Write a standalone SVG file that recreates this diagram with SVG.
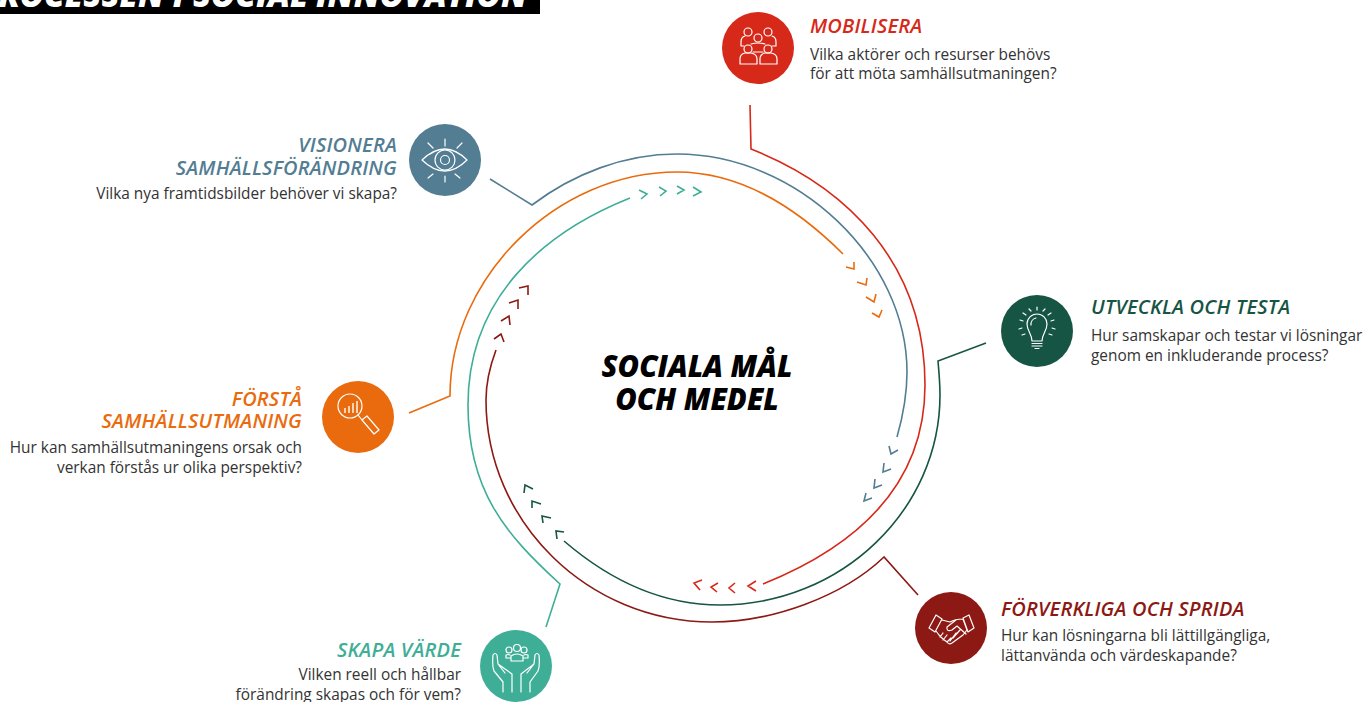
<svg xmlns="http://www.w3.org/2000/svg" width="1365" height="702" viewBox="0 0 1365 702">
<style>
text{font-family:"Open Sans","Noto Sans","Liberation Sans",sans-serif}
.h{font-size:20px;font-style:italic;font-weight:600;letter-spacing:.2px}
.b{font-size:15.4px;fill:#333}
.e{text-anchor:end}
.c{font-size:29.300px;font-style:italic;font-weight:800;text-anchor:middle;fill:#000}
.l{fill:none;stroke-width:1.6;stroke-linejoin:miter}
.ic{fill:none;stroke:#fff;stroke-width:1.2;stroke-linecap:round;stroke-linejoin:round}
.red{stroke:#d7291a}.blu{stroke:#527d92}.grn{stroke:#165443}.drd{stroke:#8c1913}.tel{stroke:#3fae97}.org{stroke:#e96b0e}
</style>
<g id="title"><rect x="0" y="0" width="540" height="14" fill="#000"/><text x="527" y="7" text-anchor="end" style="font-size:33px;font-weight:800;font-style:italic;fill:#fff">PROCESSEN I SOCIAL INNOVATION</text></g>
<g id="connectors">
<path class="l blu" d="M490 179L532 205C573 174 624 154 677 154C797 154 907 259 907 372C907 394 903 416 897 437"/>
<path class="l red" d="M750 105L751 149C845 186 925 262 925 385C925 490 850 549 763 584"/>
<path class="l grn" d="M986 343L938 361C939 372 940 384 940 395C940 510 841 605 720 605C665 605 614 584 564 541"/>
<path class="l drd" d="M918 595L884 557C842 597 772 622 712 622C588 622 486 522 486 400C486 383 490 366 496 350"/>
<path class="l tel" d="M546 627L560 584C505 534 468 490 468 405C468 300 540 234 630 198"/>
<path class="l org" d="M409 413L450 396C450 277 557 172 677 172C750 172 808 219 843 254"/>
<g class="l tel"><path d="M639 190L647 194L641 199M659 187L666 191L660 196M677 186L684 190L677 194M693 187L701 192L693 196"/></g>
<g class="l org"><path d="M846 267L854 269L854 262M857 282L866 285L867 278M866 297L874 302L876 294M872 313L879 317L882 310"/></g>
<g class="l blu"><path d="M889 446L891 454L898 450M884 463L883 472L891 469M875 479L874 488L882 485M866 493L864 501L872 498"/></g>
<g class="l red"><path d="M756 581L748 586L756 591M735 583L729 588L735 593M718 583L711 587L717 592M702 580L694 583L700 590"/></g>
<g class="l grn"><path d="M564 532L556 531L557 539M551 518L542 516L543 523M541 504L532 501L532 508M533 489L525 485L524 493"/></g>
<g class="l drd"><path d="M519 288L528 286L528 295M509 303L518 300L518 309M501 321L509 316L510 325M494 339L501 334L504 342"/></g>
</g>
<g id="center"><text class="c" x="697" y="377">SOCIALA MÅL</text><text class="c" x="697" y="410">OCH MEDEL</text></g>
<g id="mobilisera"><circle cx="758" cy="48" r="36" fill="#d7291a"/>
<g class="ic"><circle cx="748" cy="32" r="4"/><circle cx="768" cy="32" r="4"/><circle cx="758" cy="38" r="4"/><circle cx="748" cy="49" r="4"/><circle cx="768" cy="49" r="4"/><path d="M740 64V59Q740 54 745 53H751Q757 54 757 59V64ZM760 64V59Q760 54 765 53H771Q777 54 777 59V64ZM744 46H741V42Q741 37 745 36M772 46H776V42Q776 37 772 36M751 44Q758 42 765 44M753 52H763"/></g>
<text class="h" x="810" y="33" fill="#d7291a">MOBILISERA</text><text class="b" x="810" y="60">Vilka aktörer och resurser behövs</text><text class="b" x="810" y="79">för att möta samhällsutmaningen?</text></g>
<g id="utveckla"><circle cx="1037" cy="331" r="36" fill="#165443"/>
<g class="ic"><path d="M1032 341C1032 334 1027 331 1027 324A10 10 0 0 1 1047 324C1047 331 1042 334 1042 341ZM1031 325A6.500 6.500 0 0 1 1036 318M1032 343.500H1042M1032 346H1042M1035 348.500H1039M1037 310V307M1043 311L1045 309M1031 311L1029 309M1048 315L1051 313M1026 315L1023 313M1051 321L1054 320M1023 321L1020 320M1052 328L1055 329M1022 328L1019 329M1049 334L1052 335M1025 334L1022 335"/></g>
<text class="h" x="1091" y="314" fill="#165443">UTVECKLA OCH TESTA</text><text class="b" x="1091" y="341">Hur samskapar och testar vi lösningar</text><text class="b" x="1091" y="361">genom en inkluderande process?</text></g>
<g id="forverkliga"><circle cx="951" cy="628" r="36" fill="#8c1913"/>
<g class="ic"><path d="M929 628L936 615L942 619L935 632ZM963 618L969 615L974 628L968 632ZM942 620L950 622Q955 619 963 619L967 630L963 635L952 643Q949 645 947 642L943 639L939 635L936 631M956 620L947 627Q946 632 952 630L957 626L966 634M960 630L953 638M956 633L950 641M943 633L940 637M947 635L943 640M951 638L947 642"/></g>
<text class="h" x="1001" y="616" fill="#8c1913">FÖRVERKLIGA OCH SPRIDA</text><text class="b" x="1001" y="641">Hur kan lösningarna bli lättillgängliga,</text><text class="b" x="1001" y="661">lättanvända och värdeskapande?</text></g>
<g id="skapa"><circle cx="516" cy="666" r="36" fill="#3fae97"/>
<g class="ic"><circle cx="509" cy="650" r="3"/><circle cx="517" cy="648" r="3.500"/><circle cx="524" cy="650" r="3"/><path d="M511 661V656Q517 652 523 656V661ZM511 658H506V655Q508 654 510 655M523 658H528V655Q526 654 524 655"/><path d="M503 692V682L494 671Q492 666 493 655Q495 652 497 655L498 664L512 674V692M498 664L505 673M530 692V682L538 671Q540 666 539 655Q537 652 535 655L534 664L521 674V692M534 664L527 673"/></g>
<text class="h e" x="461" y="657" fill="#3fae97">SKAPA VÄRDE</text><text class="b e" x="461" y="680">Vilken reell och hållbar</text><text class="b e" x="461" y="700">förändring skapas och för vem?</text></g>
<g id="forsta"><circle cx="358" cy="417" r="36" fill="#e96b0e"/>
<g class="ic"><circle cx="350" cy="406" r="12"/><path d="M358 415L362 420M362 420L367 416L379 430L374 434Z"/></g>
<g fill="#f8d3b5"><rect x="344" y="408" width="2" height="5"/><rect x="348" y="406" width="2" height="7"/><rect x="352" y="403" width="2" height="10"/><rect x="356" y="401" width="2" height="12"/></g>
<text class="h e" x="302" y="406" fill="#e96b0e">FÖRSTÅ</text><text class="h e" x="302" y="428" fill="#e96b0e">SAMHÄLLSUTMANING</text><text class="b e" x="302" y="453">Hur kan samhällsutmaningens orsak och</text><text class="b e" x="302" y="473">verkan förstås ur olika perspektiv?</text></g>
<g id="visionera"><circle cx="445" cy="160" r="36" fill="#527d92"/>
<g class="ic"><path d="M422 160Q445 138 467 160Q445 182 422 160Z"/><circle cx="445" cy="160" r="10"/><circle cx="445" cy="160" r="4.500"/><path d="M445 139V146M445 176V182M428 143L433 148M462 143L457 148M428 178L433 174M460 178L455 174"/></g>
<text class="h e" x="397" y="152" fill="#527d92">VISIONERA</text><text class="h e" x="397" y="175" fill="#527d92">SAMHÄLLSFÖRÄNDRING</text><text class="b e" x="397" y="199">Vilka nya framtidsbilder behöver vi skapa?</text></g>
</svg>
